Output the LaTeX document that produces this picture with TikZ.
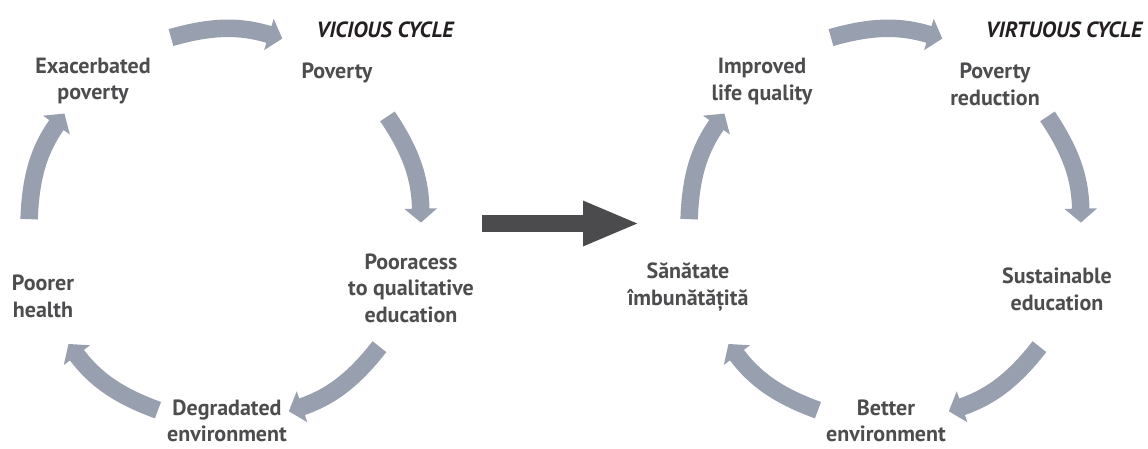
\documentclass[tikz,border=0pt]{standalone}
\usepackage{fontspec}
\setmainfont{PT Sans}
\usepackage{xcolor}
\usepackage{tikz}
\usetikzlibrary{positioning,arrows.meta,calc}

\definecolor{cycgray}{HTML}{989FAE}
\definecolor{txtgray}{HTML}{4D4D4F}
\definecolor{bigdark}{HTML}{4B4B4D}
\definecolor{ttlblack}{HTML}{231F20}

\begin{document}
\begin{tikzpicture}[x=1pt, y=1pt,
  lbl/.style={align=center, inner sep=1pt, text=txtgray, font=\fontsize{22}{26.5}\selectfont\bfseries},
  ttl/.style={text=ttlblack, font=\fontsize{22}{26}\selectfont\bfseries\itshape},
  cyc/.style={draw=cycgray, line width=17.5pt, -{Triangle[length=14pt, width=32pt]}},
  bigarr/.style={draw=bigdark, line width=17pt, -{Triangle[length=57pt, width=41pt]}}]

  \useasboundingbox (0,0) rectangle (1148,448);

  % Centres of the two cycles
  \coordinate (vc) at (225,222);
  \coordinate (gc) at (885,222);

  % Titles
  \node[ttl] (vtitle) at (385,418) {VICIOUS CYCLE};
  \node[ttl] (gtitle) at (1064,418) {VIRTUOUS CYCLE};

  % Vicious cycle labels
  \node[lbl] (exa) at (93,367) {Exacerbated\\poverty};
  \node[lbl] (pov) at (337,375) {Poverty};
  \node[lbl] (poo) at (411,160) {Pooracess\\to qualitative\\education};
  \node[lbl] (hea) at (43,151.5) {Poorer\\health};
  \node[lbl] (deg) at (227,27) {Degradated\\environment};

  % Virtuous cycle labels
  \node[lbl] (imp) at (762,366.5) {Improved\\life quality};
  \node[lbl] (red) at (995,363.5) {Poverty\\reduction};
  \node[lbl] (sus) at (1057,158.5) {Sustainable\\education};
  \node[lbl] (san) at (688,161) {Sănătate\\îmbunătățită};
  \node[lbl] (bet) at (886,27) {Better\\environment};

  % Arrow ends on both circles (clockwise, 33 degrees each)
  \foreach \i/\a in {1/106, 2/34, 3/-38, 4/-110, 5/-182} {
    \coordinate (vs\i) at ($(vc)+(\a:196)$);
    \coordinate (ve\i) at ($(vc)+({\a-33}:196)$);
    \coordinate (gs\i) at ($(gc)+(\a:196)$);
    \coordinate (ge\i) at ($(gc)+({\a-33}:196)$);
  }

  % Cycle arrows
  \foreach \i in {1,...,5} {
    \draw[cyc] (vs\i) to[bend left=16.5] (ve\i);
    \draw[cyc] (gs\i) to[bend left=16.5] (ge\i);
  }

  % Transition arrow
  \coordinate (bs) at (482,224.5);
  \coordinate (be) at (640,224.5);
  \draw[bigarr] (bs) -- (be);

\end{tikzpicture}
\end{document}
